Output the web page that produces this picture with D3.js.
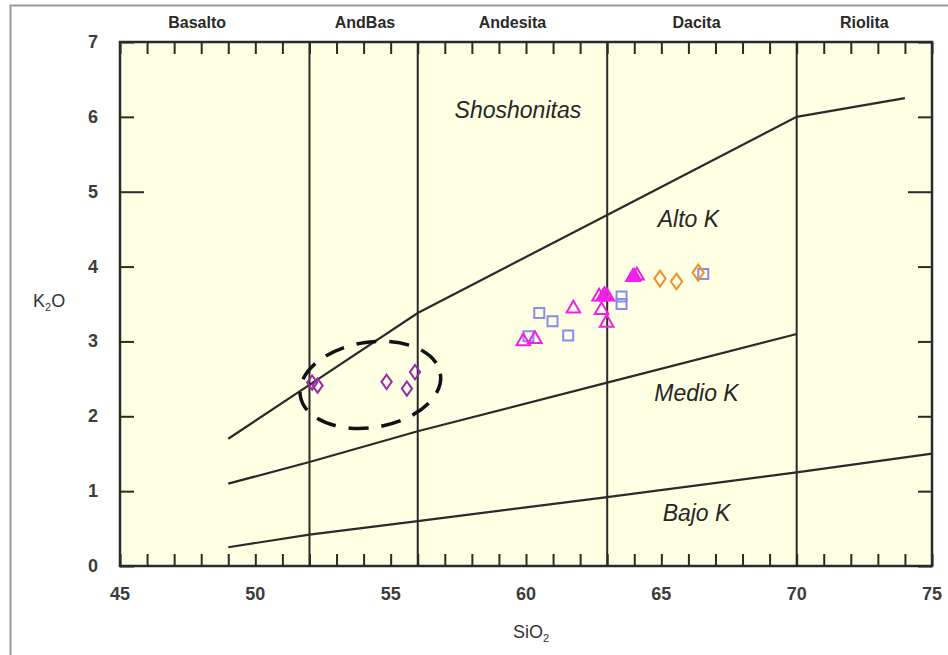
<!DOCTYPE html>
<html>
<head>
<meta charset="utf-8">
<script src="https://cdn.jsdelivr.net/npm/d3@7"></script>
<style>
  body { margin: 0; background: #fff; }
  text { font-family: "Liberation Sans", Arial, sans-serif; fill: #333; }
</style>
</head>
<body>
<script>
// rock type names along the top, with the SiO2 borders between them
var rockNames = ["Basalto", "AndBas", "Andesita", "Dacita", "Riolita"];
var rockCenters = [47.85, 54.05, 59.5, 66.3, 72.5];
var rockBorders = [52, 56, 63, 70];

// K2O series boundary lines (SiO2, K2O)
var lowMedium = [[49, 0.25], [52, 0.42], [56, 0.6], [63, 0.92], [70, 1.25], [75, 1.5]];
var mediumHigh = [[49, 1.1], [52, 1.39], [56, 1.8], [63, 2.45], [70, 3.1]];
var highSho = [[49, 1.7], [52, 2.42], [56, 3.38], [63, 4.69], [70, 6.0], [74, 6.25]];

var seriesNames = ["Shoshonitas", "Alto K", "Medio K", "Bajo K"];
var seriesPos = [[59.7, 5.98], [66.0, 4.53], [66.3, 2.2], [66.3, 0.6]];

// samples
var purpleDiamonds = [[52.1, 2.45], [52.3, 2.41], [54.85, 2.46], [55.6, 2.37], [55.9, 2.59]];
var pinkTriangles = [[59.9, 3.0], [60.33, 3.03], [61.75, 3.44], [62.7, 3.6], [62.9, 3.62], [63.0, 3.6],
                     [62.79, 3.42], [62.98, 3.25], [63.95, 3.86], [64.1, 3.88]];
var pinkFilled = [[62.85, 3.6], [64.0, 3.87]];
var blueSquares = [[60.09, 3.07], [60.49, 3.38], [60.98, 3.27], [61.56, 3.08], [63.53, 3.6], [63.53, 3.5], [66.55, 3.9]];
var orangeDiamonds = [[64.95, 3.84], [65.56, 3.8], [66.36, 3.92]];

var xTicks = [45, 50, 55, 60, 65, 70, 75];
var yTicks = [0, 1, 2, 3, 4, 5, 6, 7];

var W = 948, H = 655;
var m = { left: 120, right: 16, top: 42, bottom: 89 };

var svg = d3.select("body").append("svg")
    .attr("width", W)
    .attr("height", H);

// outer frame (left and top)
svg.append("path")
    .attr("d", "M10.5," + H + "V5.5H" + W)
    .attr("fill", "none")
    .attr("stroke", "#999")
    .attr("stroke-width", 2);

var x = d3.scaleLinear().domain([45, 75]).range([m.left, W - m.right]);
var y = d3.scaleLinear().domain([0, 7]).range([H - m.bottom, m.top]);

svg.append("rect")
    .attr("x", x(45)).attr("y", y(7))
    .attr("width", x(75) - x(45)).attr("height", y(0) - y(7))
    .attr("fill", "#ffffe3");

var ink = "#2a2a2a";

// ticks pointing inwards
var bottomAxis = svg.append("g")
    .attr("transform", "translate(0," + y(0) + ")")
    .call(d3.axisBottom(x).tickValues(d3.range(45, 76)).tickSize(-12).tickFormat(""));
var topAxis = svg.append("g")
    .attr("transform", "translate(0," + y(7) + ")")
    .call(d3.axisTop(x).tickValues(d3.range(45, 76)).tickSize(-12).tickFormat(""));
var leftAxis = svg.append("g")
    .attr("transform", "translate(" + x(45) + ",0)")
    .call(d3.axisLeft(y).tickValues(yTicks).tickSize(-14).tickFormat(""));
var rightAxis = svg.append("g")
    .attr("transform", "translate(" + x(75) + ",0)")
    .call(d3.axisRight(y).tickValues(yTicks).tickSize(-14).tickFormat(""));

[bottomAxis, topAxis, leftAxis, rightAxis].forEach(function(g) {
    g.select(".domain").remove();
    g.selectAll("line").attr("stroke", ink).attr("stroke-width", 2);
});
leftAxis.selectAll(".tick").filter(function(d) { return d === 5; }).select("line").attr("x2", 24);
rightAxis.selectAll(".tick").filter(function(d) { return d === 5; }).select("line").attr("x2", -24);

// vertical rock borders
svg.selectAll(".border")
    .data(rockBorders)
    .enter()
    .append("line")
    .attr("x1", function(d) { return x(d); })
    .attr("x2", function(d) { return x(d); })
    .attr("y1", y(7))
    .attr("y2", y(0))
    .attr("stroke", ink)
    .attr("stroke-width", 2);

var line = d3.line()
    .x(function(d) { return x(d[0]); })
    .y(function(d) { return y(d[1]); });

svg.selectAll(".bound")
    .data([lowMedium, mediumHigh, highSho])
    .enter()
    .append("path")
    .attr("d", line)
    .attr("fill", "none")
    .attr("stroke", ink)
    .attr("stroke-width", 2.2);

// plot frame
svg.append("rect")
    .attr("x", x(45)).attr("y", y(7))
    .attr("width", x(75) - x(45)).attr("height", y(0) - y(7))
    .attr("fill", "none")
    .attr("stroke", ink)
    .attr("stroke-width", 2.5);

// tick labels
svg.selectAll(".xlab")
    .data(xTicks)
    .enter()
    .append("text")
    .text(function(d) { return d; })
    .attr("x", function(d) { return x(d); })
    .attr("y", y(0) + 34)
    .attr("text-anchor", "middle")
    .attr("font-size", "18px")
    .attr("font-weight", "bold")
    .style("fill", "#3c3c3c");

svg.selectAll(".ylab")
    .data(yTicks)
    .enter()
    .append("text")
    .text(function(d) { return d; })
    .attr("x", x(45) - 22)
    .attr("y", function(d) { return y(d) + 6; })
    .attr("text-anchor", "end")
    .attr("font-size", "18px")
    .attr("font-weight", "bold")
    .style("fill", "#3c3c3c");

var xt = svg.append("text")
    .attr("x", 531).attr("y", 638)
    .attr("text-anchor", "middle")
    .attr("font-size", "18px");
xt.append("tspan").text("SiO");
xt.append("tspan").text("2").attr("font-size", "11px").attr("dy", 4);

var yt = svg.append("text")
    .attr("x", 33).attr("y", 307)
    .attr("font-size", "18px");
yt.append("tspan").text("K");
yt.append("tspan").text("2").attr("font-size", "11px").attr("dy", 4);
yt.append("tspan").text("O").attr("dy", -4);

// rock names
svg.selectAll(".rock")
    .data(rockNames)
    .enter()
    .append("text")
    .text(function(d) { return d; })
    .attr("x", function(d, i) { return x(rockCenters[i]); })
    .attr("y", 28)
    .attr("text-anchor", "middle")
    .attr("font-size", "16px")
    .attr("font-weight", "bold")
    .style("fill", "#2a2a2a");

// series names
svg.selectAll(".series")
    .data(seriesNames)
    .enter()
    .append("text")
    .text(function(d) { return d; })
    .attr("x", function(d, i) { return x(seriesPos[i][0]); })
    .attr("y", function(d, i) { return y(seriesPos[i][1]); })
    .attr("text-anchor", "middle")
    .attr("font-size", "23px")
    .attr("font-style", "italic")
    .style("fill", "#262626");

// dashed ellipse around the AndBas samples
svg.append("ellipse")
    .attr("cx", x(54.25))
    .attr("cy", y(2.42))
    .attr("rx", x(54.25 + 2.62) - x(54.25))
    .attr("ry", y(0) - y(0.57))
    .attr("transform", "rotate(-9," + x(54.25) + "," + y(2.42) + ")")
    .attr("fill", "none")
    .attr("stroke", "#111")
    .attr("stroke-width", 3.5)
    .attr("stroke-dasharray", "20,13");

// samples
function markers(data, type, size, stroke, fill) {
    svg.append("g").selectAll("path")
        .data(data)
        .enter()
        .append("path")
        .attr("d", d3.symbol().type(type).size(size))
        .attr("transform", function(d) { return "translate(" + x(d[0]) + "," + y(d[1]) + ")"; })
        .attr("fill", fill)
        .attr("stroke", stroke)
        .attr("stroke-width", 2);
}

var diamond = {
    draw: function(ctx, size) {
        var h = Math.sqrt(size) * 0.75, w = h * 0.72;
        ctx.moveTo(0, -h); ctx.lineTo(w, 0); ctx.lineTo(0, h); ctx.lineTo(-w, 0); ctx.closePath();
    }
};

markers(blueSquares, d3.symbolSquare, 100, "#8a8af0", "none");
markers(pinkTriangles, d3.symbolTriangle, 80, "#f020e8", "none");
markers(pinkFilled, d3.symbolTriangle, 70, "#f020e8", "#f020e8");
markers(purpleDiamonds, diamond, 90, "#9a2aa8", "none");
markers(orangeDiamonds, diamond, 110, "#f0902a", "none");
</script>
</body>
</html>
